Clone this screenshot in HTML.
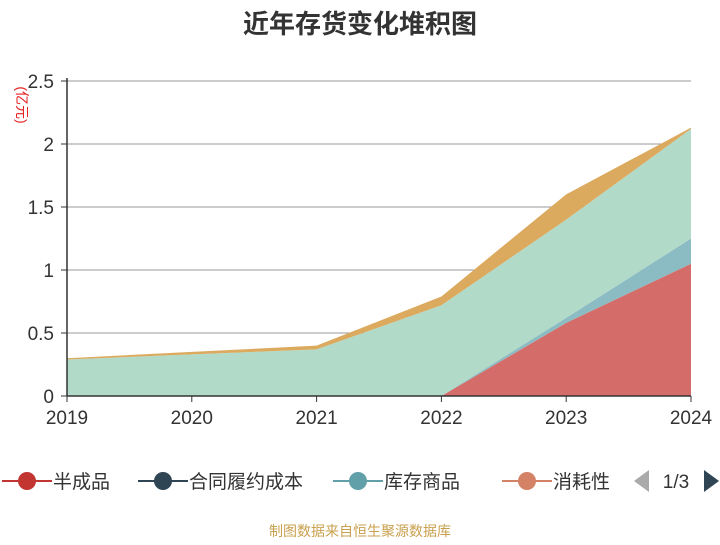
<!DOCTYPE html>
<html><head><meta charset="utf-8"><style>
body{margin:0;background:#fff;font-family:"Liberation Sans","Noto Sans CJK SC",sans-serif;}
</style></head><body>
<svg id="c" width="720" height="540" xmlns="http://www.w3.org/2000/svg">
<text x="360" y="33" text-anchor="middle" font-size="26" font-weight="bold" fill="#333">近年存货变化堆积图</text>
<text transform="translate(17,105) rotate(90)" text-anchor="middle" font-size="14" fill="#e52222">(亿元)</text>
<g id="grid"></g><g id="areas"></g><g id="axes"></g>
<g id="legend"></g>
<text x="360" y="536" text-anchor="middle" font-size="14" fill="#c9a04e">制图数据来自恒生聚源数据库</text>
</svg>
<script>
const years=["2019","2020","2021","2022","2023","2024"];
const yTicks=[0,0.5,1,1.5,2,2.5];
const yTickLabels=["0","0.5","1","1.5","2","2.5"];
const banChengPin=[0,0,0,0,0.58,1.05];
const heTongLvYue=[0,0,0,0,0,0];
const kuCunShangPin=[0,0,0,0,0.04,0.2];
const otherGreen=[0.29,0.33,0.37,0.72,0.78,0.87];
const xiaoHaoXing=[0.01,0.02,0.03,0.07,0.2,0.01];
const series=[
 {name:"ban-cheng-pin",v:banChengPin,c:"#d46c6a"},
 {name:"he-tong-lv-yue",v:heTongLvYue,c:"#4a5d70"},
 {name:"ku-cun-shang-pin",v:kuCunShangPin,c:"#8cbcc3"},
 {name:"other-green",v:otherGreen,c:"#b2dac8"},
 {name:"xiao-hao-xing",v:xiaoHaoXing,c:"#dcaa5e"}];
const NS="http://www.w3.org/2000/svg";
const X0=67,X1=691,Y0=396,Y1=81;
const xs=i=>X0+i*(X1-X0)/(years.length-1);
const ys=v=>Y0-v*(Y0-Y1)/2.5;
function mk(t,a,p){const e=document.createElementNS(NS,t);for(const k in a)e.setAttribute(k,a[k]);p.appendChild(e);return e;}
const grid=document.getElementById('grid'),axes=document.getElementById('axes'),areas=document.getElementById('areas');
yTicks.forEach((t,i)=>{
 const y=ys(t);
 if(t>0){const l=mk('line',{x1:X0,x2:X1,y1:y,y2:y,stroke:'#999','stroke-width':1},grid);
 
 }
 const tk=mk('line',{x1:X0-6,x2:X0,y1:y,y2:y,stroke:'#333','stroke-width':1},axes);
 
 
 const tx=mk('text',{x:X0-13,y:y+7,'text-anchor':'end','font-size':19,fill:'#333'},axes);
 tx.textContent=yTickLabels[i];
 
 
});
let base=years.map(()=>0);
series.forEach(s=>{
 const top=base.map((b,i)=>b+s.v[i]);
 let d='M'+years.map((_,i)=>xs(i)+','+ys(top[i])).join(' L');
 for(let i=years.length-1;i>=0;i--)d+=' L'+xs(i)+','+ys(base[i]);
 const p=mk('path',{d:d+'Z',fill:s.c,stroke:'none'},areas);
 
 
 base=top;
});
const ya=mk('line',{x1:X0,x2:X0,y1:Y1-3,y2:Y0,stroke:'#333','stroke-width':1.5},axes);


const xa=mk('line',{x1:X0,x2:X1,y1:Y0,y2:Y0,stroke:'#333','stroke-width':1.5},axes);


years.forEach((yr,i)=>{
 const tk=mk('line',{x1:xs(i),x2:xs(i),y1:Y0,y2:Y0+6,stroke:'#333'},axes);
 
 
 const t=mk('text',{x:xs(i),y:424,'text-anchor':'middle','font-size':19,fill:'#333'},axes);
 t.textContent=yr;
 
 
});
const lg=document.getElementById('legend');
const leg=[["半成品","#c23531",27],["合同履约成本","#2f4554",163],["库存商品","#61a0a8",358],["消耗性","#d48265",527]];
leg.forEach(L=>{
 const g=mk('g',{},lg);
 
 
 mk('line',{x1:L[2]-25,x2:L[2]+25,y1:481,y2:481,stroke:L[1],'stroke-width':2},g);
 mk('circle',{cx:L[2],cy:481,r:9,fill:L[1]},g);
 const t=mk('text',{x:L[2]+26,y:488,'font-size':19,fill:'#333'},g);
 t.textContent=L[0];
});
const pp=mk('path',{d:'M649,470 L634,481 L649,492Z',fill:'#aaa'},lg);


const pt=mk('text',{x:676,y:488,'text-anchor':'middle','font-size':19,fill:'#333'},lg);
pt.textContent='1/3';


const pn=mk('path',{d:'M704,470 L719,481 L704,492Z',fill:'#2f4554'},lg);


</script>
</body></html>
